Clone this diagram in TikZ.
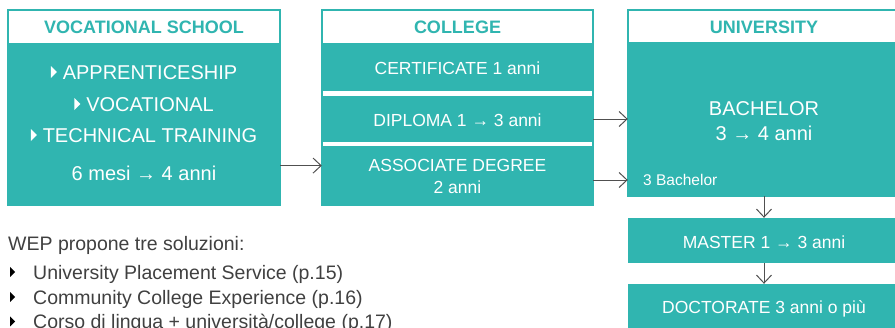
\documentclass[tikz,border=0pt]{standalone}
\usepackage{fontspec}
\setmainfont{Liberation Sans}
\usetikzlibrary{arrows.meta}

\definecolor{wepteal}{RGB}{48,181,176}
\definecolor{weptext}{RGB}{64,64,64}
\definecolor{weparrow}{RGB}{80,80,80}

% small triangular bullet, #1 colour, #2 height
\newcommand\tri[2]{\tikz[baseline=0pt]\fill[#1] (0pt,{0.36em-0.5*#2}) -- (0pt,{0.36em+0.5*#2}) -- ({0.5*#2},0.36em) -- cycle;}

\tikzset{
	headbox/.style = {draw=wepteal, line width=1.2pt, fill=white, text=wepteal,
		font=\bfseries\fontsize{18}{20}\selectfont, inner sep=0pt,
		text height=13pt, text depth=0pt},
	bodybox/.style = {fill=wepteal, inner sep=0pt},
	framebox/.style = {draw=wepteal, line width=1.2pt, inner sep=0pt},
	boxtext/.style = {text=white, inner sep=0pt, text depth=0pt},
	bigtext/.style = {boxtext, font=\fontsize{20}{24}\selectfont, text height=14.4pt},
	midtext/.style = {boxtext, font=\fontsize{17.5}{22}\selectfont, text height=12.6pt},
	smalltext/.style = {boxtext, font=\fontsize{15.5}{18}\selectfont, text height=11.2pt},
	listtext/.style = {text=weptext, inner sep=0pt, anchor=west,
		font=\fontsize{19.5}{24}\selectfont, text height=14pt, text depth=0pt},
	arr/.style = {draw=weparrow, line width=1pt, -{Straight Barb[length=8pt,width=15pt]}}
}

\begin{document}
\begin{tikzpicture}[x=1pt,y=-1pt]
	\useasboundingbox (0,0) rectangle (895,327);

	% vocational school
	\node[bodybox, minimum width=272pt, minimum height=161pt] (vocbody) at (144,124.5) {};
	\node[headbox, minimum width=272pt, minimum height=34pt] (vochead) at (144,27) {VOCATIONAL SCHOOL};
	\node[framebox, minimum width=272pt, minimum height=195pt] (vocframe) at (144,107.5) {};
	\node[bigtext] (apprent) at (144,72) {\tri{white}{12pt}\hspace{6pt}APPRENTICESHIP};
	\node[bigtext] (vocat) at (144,104) {\tri{white}{12pt}\hspace{6pt}VOCATIONAL};
	\node[bigtext] (techn) at (144,135) {\tri{white}{12pt}\hspace{6pt}TECHNICAL TRAINING};
	\node[bigtext] (vocdur) at (144,173) {6 mesi → 4 anni};

	% college
	\node[bodybox, minimum width=271pt, minimum height=47pt] (cert) at (457.5,67.5) {};
	\node[bodybox, minimum width=271pt, minimum height=46pt] (diploma) at (457.5,119) {};
	\node[bodybox, minimum width=271pt, minimum height=59pt] (assoc) at (457.5,175.5) {};
	\node[headbox, minimum width=271pt, minimum height=34pt] (colhead) at (457.5,27) {COLLEGE};
	\node[framebox, minimum width=271pt, minimum height=195pt] (colframe) at (457.5,107.5) {};
	\node[midtext] (certtext) at (457.5,68) {CERTIFICATE 1 anni};
	\node[midtext] (diptext) at (457.5,120) {DIPLOMA 1 → 3 anni};
	\node[midtext] (assoctop) at (457.5,165) {ASSOCIATE DEGREE};
	\node[midtext] (assocbot) at (457.5,187) {2 anni};

	% university
	\node[bodybox, minimum width=272pt, minimum height=153pt] (bachelor) at (764,119.5) {};
	\node[headbox, minimum width=272pt, minimum height=33pt] (unihead) at (764,26.5) {UNIVERSITY};
	\node[framebox, minimum width=272pt, minimum height=186pt] (uniframe) at (764,103) {};
	\node[bigtext] (bachtop) at (764,108) {BACHELOR};
	\node[bigtext] (bachbot) at (764,133) {3 → 4 anni};
	\node[smalltext, anchor=west] (bsmall) at (643,180) {3 Bachelor};
	\node[bodybox, minimum width=272pt, minimum height=45pt] (master) at (764,240.5) {};
	\node[midtext] (mastext) at (764,242) {MASTER 1 → 3 anni};
	\node[bodybox, minimum width=272pt, minimum height=50pt] (doctor) at (764,309) {};
	\node[midtext] (doctext) at (764,307) {DOCTORATE 3 anni o più};

	% connectors
	\draw[arr] (vocbody.east |- vocdur.north) -- (assoc.west |- vocdur.north);
	\draw[arr] (diploma.east) -- (bachelor.west |- diploma.east);
	\draw[arr] (assoc.east |- bsmall) -- (bachelor.west |- bsmall);
	\draw[arr] (bachelor.south) -- (master.north);
	\draw[arr] (master.south) -- (doctor.north);

	% WEP list
	\node[listtext] (wep) at (8,243) {WEP propone tre soluzioni:};
	\node[listtext] (ups) at (10,272) {\makebox[23pt][l]{\tri{black}{10pt}}University Placement Service (p.15)};
	\node[listtext] (cce) at (10,297) {\makebox[23pt][l]{\tri{black}{10pt}}Community College Experience (p.16)};
	\node[listtext] (corso) at (10,321.5) {\makebox[23pt][l]{\tri{black}{10pt}}Corso di lingua + università/college (p.17)};
\end{tikzpicture}
\end{document}
